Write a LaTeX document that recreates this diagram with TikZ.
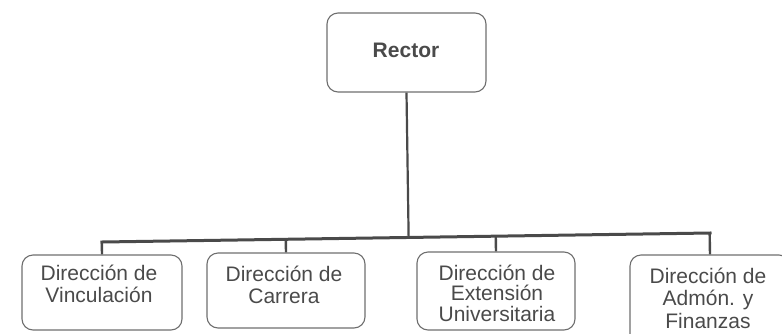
\documentclass[tikz,border=0pt]{standalone}
\usepackage{fontspec}
\setmainfont{Liberation Sans}
\usetikzlibrary{calc}
\definecolor{ink}{HTML}{4A4A4A}
\definecolor{edge}{HTML}{6E6E6E}
\begin{document}
\begin{tikzpicture}[x=1pt,y=-1pt,
  box/.style={draw=edge, line width=1.1pt, rounded corners=11pt, inner sep=0pt},
  txt/.style={text=ink, align=center, font=\fontsize{21}{21.5}\selectfont, inner sep=0pt},
  wire/.style={draw=ink, line width=2.4pt}]
\useasboundingbox (0,0) rectangle (782,333);
% boxes
\node[box, minimum width=159pt, minimum height=79pt] (rector) at (406.5,52.5) {};
\node[txt, font=\fontsize{21}{24}\selectfont\bfseries] (trector) at (406,50) {Rector};
\node[box, minimum width=160pt, minimum height=75pt] (b1) at (102,292.5) {};
\node[box, minimum width=158pt, minimum height=75pt] (b2) at (286,290.5) {};
\node[box, minimum width=158pt, minimum height=78pt] (b3) at (496,291) {};
\node[box, minimum width=160pt, minimum height=90pt] (b4) at (710,300) {};
\node[txt] (t1) at (99,284) {Dirección de\\Vinculación};
\node[txt] (t2) at (284,285) {Dirección de\\Carrera};
\node[txt, font=\fontsize{21}{20.5}\selectfont] (t3) at (497,293) {Dirección de\\Extensión\\Universitaria};
\node[txt, font=\fontsize{21}{22.5}\selectfont] (t4) at (708,298) {Dirección de\\Admón. y\\Finanzas};
% connectors
\coordinate (busL) at (102,242);
\coordinate (busR) at (710,233);
\draw[wire, line width=2.2pt] (rector.south) -- ($(busL)!(rector.south)!(busR)$);
\draw[wire, line width=3pt, line cap=rect] (busL) -- (busR);
\draw[wire] ($(busL)!(b1.north)!(busR)$) -- (b1.north);
\draw[wire] ($(busL)!(b2.north)!(busR)$) -- (b2.north);
\draw[wire] ($(busL)!(b3.north)!(busR)$) -- (b3.north);
\draw[wire] ($(busL)!(b4.north)!(busR)$) -- (b4.north);
\end{tikzpicture}
\end{document}
